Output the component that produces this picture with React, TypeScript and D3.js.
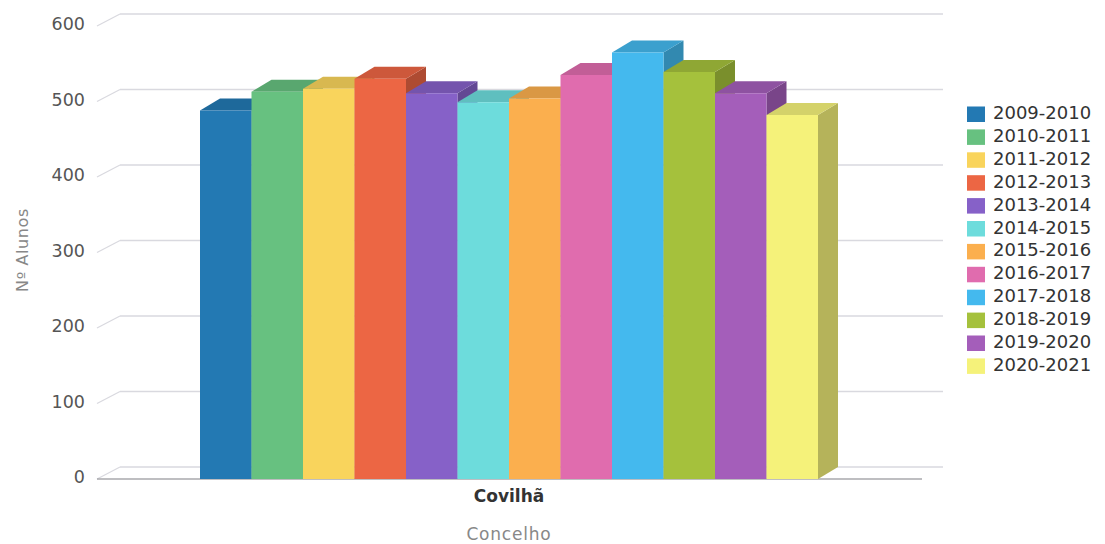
import React from "react";
import * as d3 from "d3";

const seriesNames = [
  "2009-2010", "2010-2011", "2011-2012", "2012-2013", "2013-2014", "2014-2015",
  "2015-2016", "2016-2017", "2017-2018", "2018-2019", "2019-2020", "2020-2021",
];
const seriesValues = [488, 513, 517, 530, 511, 499, 504, 535, 565, 539, 511, 482];
const seriesColors = [
  "#2379b3", "#67c180", "#f9d45c", "#ec6644", "#8661c8", "#6ddcdc",
  "#fbaf4e", "#e06cae", "#44b9ee", "#a5c13c", "#a45eba", "#f5f27a",
];
const categories = ["Covilhã"];
const yTicks = [0, 100, 200, 300, 400, 500, 600];

const W = 1105;
const H = 544;
const DX = 20;
const DY = -12;
const FONT = "'DejaVu Sans', Verdana, sans-serif";

export default function App() {
  const y = d3.scaleLinear().domain([0, 600]).range([479, 26]);
  const axisX0 = 100;
  const axisX1 = 922;
  const cat = d3.scaleBand().domain(categories).range([axisX0, axisX1]);
  const x = d3
    .scaleBand()
    .domain(seriesNames)
    .range([200, 818])
    .padding(0);
  const bw = x.bandwidth();

  const shade = (c: string, k: number) => d3.color(c)!.darker(k).formatHex();

  return (
    <svg
      width={W}
      height={H}
      style={{ position: "absolute", left: 0, top: 0, background: "#fff" }}
      fontFamily={FONT}
    >
      {/* grid lines on back plane with diagonals */}
      {yTicks.map((t) => (
        <g key={t}>
          <line
            x1={axisX0 + DX}
            x2={axisX1 + DX + 1}
            y1={y(t) + DY}
            y2={y(t) + DY}
            stroke="#d9d9df"
            strokeWidth={1.3}
          />
          <line
            x1={axisX0 - 3}
            y1={y(t)}
            x2={axisX0 + DX}
            y2={y(t) + DY}
            stroke="#d9d9df"
            strokeWidth={1.3}
          />
          <text
            x={85}
            y={y(t) - 1}
            textAnchor="end"
            dominantBaseline="middle"
            fontSize={17.5}
            fill="#555"
          >
            {t}
          </text>
        </g>
      ))}
      {/* front base line */}
      <line x1={axisX0 - 3} x2={axisX1} y1={y(0)} y2={y(0)} stroke="#a8a8ac" strokeWidth={1.5} />

      {/* bars */}
      {seriesNames.map((s, i) => {
        const x0 = x(s)!;
        const x1 = x0 + bw;
        const yt = y(seriesValues[i]);
        const yb = y(0);
        const c = seriesColors[i];
        const front = `M${x0},${yt}L${x1},${yt}L${x1},${yb}L${x0},${yb}Z`;
        const top = `M${x0},${yt}L${x0 + DX},${yt + DY}L${x1 + DX},${yt + DY}L${x1},${yt}Z`;
        const side = `M${x1},${yt}L${x1 + DX},${yt + DY}L${x1 + DX},${yb + DY}L${x1},${yb}Z`;
        return (
          <g key={s}>
            <path d={side} fill={shade(c, 0.85)} />
            <path d={top} fill={shade(c, 0.4)} />
            <path d={front} fill={c} />
          </g>
        );
      })}

      {/* category label */}
      {categories.map((c) => (
        <text
          key={c}
          x={cat(c)! + cat.bandwidth() / 2 - 2}
          y={497}
          textAnchor="middle"
          dominantBaseline="middle"
          fontSize={17}
          fontWeight="bold"
          fill="#333"
        >
          {c}
        </text>
      ))}
      <text
        x={509}
        y={535}
        textAnchor="middle"
        dominantBaseline="middle"
        fontSize={17}
        letterSpacing={0.8}
        fill="#888"
      >
        Concelho
      </text>
      <text
        transform={`translate(23,250) rotate(-90)`}
        textAnchor="middle"
        dominantBaseline="middle"
        fontSize={16}
        letterSpacing={0.6}
        fill="#888"
      >
        Nº Alunos
      </text>

      {/* legend */}
      {seriesNames.map((s, i) => {
        const cy = 114 + i * 22.9;
        return (
          <g key={s}>
            <rect x={967} y={cy - 7.5} width={18} height={15.5} fill={seriesColors[i]} />
            <text x={993} y={cy} dominantBaseline="middle" fontSize={18} fill="#333">
              {s}
            </text>
          </g>
        );
      })}
    </svg>
  );
}
